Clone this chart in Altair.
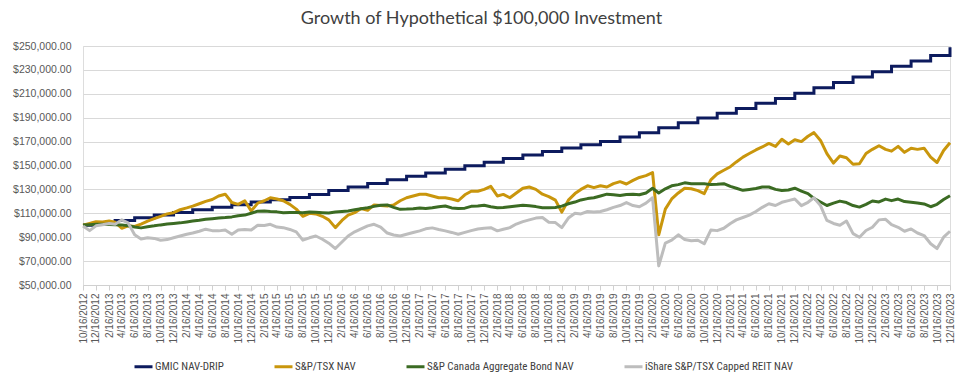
import altair as alt
import pandas as pd

TITLE = "Growth of Hypothetical $100,000 Investment"
SERIES = ["GMIC NAV-DRIP", "S&P/TSX NAV", "S&P Canada Aggregate Bond NAV",
          "iShare S&P/TSX Capped REIT NAV"]
COLORS = ["#0d1b5e", "#c9960c", "#3b6b23", "#bdbdbd"]

# month offsets from 10/16/2012
gmic_months = [0] + list(range(2, 135, 3))
# GMIC NAV-DRIP value ($ thousands) in effect from each month offset (quarterly steps)
gmic_k = [100.0, 101.9, 104.0, 106.2, 108.5, 110.7, 112.9, 115.0, 117.2, 119.4,
          121.3, 123.2, 125.8, 129.0, 132.0, 135.0, 138.0, 141.0, 143.8, 146.8,
          149.8, 152.8, 155.8, 158.8, 161.8, 164.6, 167.4, 170.0, 173.8, 177.4,
          181.5, 185.7, 189.8, 193.7, 197.8, 202.0, 206.0, 210.5, 215.0, 219.5,
          224.0, 228.5, 233.0, 237.5, 242.0, 249.0]

# monthly values ($ thousands), month offsets 0..134
tsx_k = [100.0, 101.5, 103.0, 102.8, 103.5, 102.5, 97.5, 99.5, 99.0, 101.0, 103.5, 105.5,
         107.5, 109.5, 110.5, 113.0, 114.5, 116.0, 118.0, 120.0, 121.5, 124.5, 126.0, 119.0,
         117.5, 120.5, 112.0, 118.5, 120.5, 123.0, 122.0, 120.5, 117.5, 113.5, 107.5, 110.0,
         109.5, 107.5, 104.5, 98.0, 104.0, 108.5, 110.5, 114.0, 112.5, 117.0, 116.5, 116.0,
         117.0, 120.5, 123.0, 124.5, 126.0, 126.0, 124.5, 123.0, 123.0, 122.0, 120.5, 125.5,
         128.5, 128.5, 130.0, 132.5, 124.5, 125.8, 123.0, 127.0, 131.0, 132.0, 130.0, 126.0,
         124.0, 121.0, 111.0, 121.0, 126.5, 130.0, 133.0, 131.5, 133.0, 132.0, 134.8, 136.5,
         134.5, 137.5, 140.0, 141.5, 144.0, 92.0, 113.5, 122.0, 127.0, 131.0, 130.5, 129.0,
         126.5, 138.0, 143.0, 146.0, 149.0, 153.0, 157.0, 160.0, 163.0, 165.5, 168.5, 166.0,
         172.0, 168.0, 171.5, 170.0, 174.5, 177.5, 171.0, 160.0, 152.0, 158.0, 156.5, 151.0,
         151.5, 160.0, 163.5, 166.5, 163.5, 162.0, 166.0, 161.0, 164.5, 163.5, 164.5, 157.0,
         152.5, 162.5, 169.0]

bond_k = [100.3, 100.5, 100.8, 100.8, 100.6, 100.5, 100.3, 99.5, 98.5, 97.8, 98.8, 99.5,
          100.3, 101.0, 101.5, 102.0, 102.8, 103.5, 104.2, 105.0, 105.5, 106.0, 106.4, 107.0,
          108.0, 108.5, 110.0, 111.8, 112.0, 111.5, 111.2, 110.5, 110.6, 110.6, 110.5, 111.0,
          110.8, 110.5, 110.2, 111.0, 111.5, 112.0, 113.0, 113.8, 114.7, 115.8, 116.8, 117.0,
          115.0, 113.3, 113.5, 113.9, 114.5, 114.0, 114.7, 115.5, 116.1, 114.5, 114.0, 114.3,
          115.8, 116.1, 116.7, 115.5, 114.7, 114.8, 115.5, 116.1, 116.7, 116.3, 115.6, 114.7,
          114.6, 114.8, 116.0, 118.0, 119.4, 121.2, 122.3, 123.0, 124.5, 126.0, 125.5, 124.9,
          125.8, 126.0, 125.5, 127.0, 131.0, 127.0, 130.5, 133.0, 134.0, 135.5, 134.8, 134.8,
          134.8, 134.0, 134.3, 134.8, 132.5, 131.0, 129.2, 130.0, 130.8, 132.0, 132.0, 130.0,
          129.0, 129.5, 131.0, 128.5, 126.5, 122.5, 119.5, 116.5, 118.5, 120.2, 119.0, 116.5,
          115.2, 117.5, 120.3, 119.5, 121.9, 120.6, 121.9, 119.8, 119.2, 118.6, 117.8, 115.5,
          117.5, 121.5, 124.7]

reit_k = [99.4, 95.5, 99.5, 100.5, 101.5, 100.8, 104.5, 102.0, 92.0, 88.5, 89.5, 89.0,
          87.5, 88.0, 89.5, 91.0, 92.5, 93.5, 95.0, 96.7, 95.5, 95.3, 96.0, 92.5,
          96.0, 96.5, 96.0, 100.0, 99.8, 100.8, 98.5, 98.0, 96.5, 94.5, 87.5, 89.5,
          91.0, 88.3, 85.0, 80.5, 86.0, 91.0, 94.5, 97.0, 99.5, 100.8, 98.5, 93.5,
          91.8, 91.0, 92.5, 93.9, 95.3, 97.0, 97.8, 96.5, 95.3, 94.0, 92.5, 94.0,
          95.5, 96.8, 97.5, 98.0, 95.3, 96.7, 98.0, 101.0, 103.0, 104.5, 106.0, 106.5,
          102.5, 102.2, 98.0, 106.0, 110.0, 109.5, 111.5, 111.0, 111.5, 113.0, 115.0, 116.5,
          119.0, 116.5, 115.5, 118.5, 123.0, 66.0, 85.0, 87.5, 92.0, 88.0, 87.0, 87.5,
          84.5, 96.0, 95.5, 97.5, 101.5, 104.5, 106.5, 108.5, 111.5, 115.0, 118.0, 116.5,
          119.2, 120.6, 122.0, 116.4, 119.2, 123.0, 116.4, 104.0, 101.5, 100.0, 103.5, 93.0,
          90.0, 95.6, 98.3, 104.5, 105.0, 100.5, 98.3, 95.0, 96.9, 93.5, 91.4, 84.5,
          80.5, 90.0, 95.0]

y_ticks = [50000, 70000, 90000, 110000, 130000, 150000, 170000, 190000, 210000, 230000, 250000]
x_tick_months = list(range(0, 135, 2))


def ym(m):
    return 2012 + (9 + m) // 12, (9 + m) % 12 + 1


def month_date(m):
    y, mo = ym(m)
    return f"{y}-{mo:02d}-16T00:00:00"


rows = []
for m, v in zip(gmic_months, gmic_k):
    rows.append({"series": SERIES[0], "date": month_date(m), "value": v * 1000})
gmic_df = pd.DataFrame(rows)

rows = []
for name, vals in zip(SERIES[1:], [tsx_k, bond_k, reit_k]):
    for m, v in enumerate(vals):
        rows.append({"series": name, "date": month_date(m), "value": v * 1000})
other_df = pd.DataFrame(rows)

tick_dates = [alt.DateTime(year=ym(m)[0], month=ym(m)[1], date=16) for m in x_tick_months]

AXIS_FONT = "Liberation Sans"
LEGEND_FONT = "Liberation Sans Narrow, Roboto Condensed, Liberation Sans"

x_enc = alt.X(
    "date:T", title=None,
    scale=alt.Scale(domain=[alt.DateTime(year=2012, month=10, date=16),
                            alt.DateTime(year=2023, month=12, date=16)], nice=False),
    axis=alt.Axis(values=tick_dates, format="%-m/%-d/%Y", labelAngle=270,
                  labelFont=AXIS_FONT, labelFontSize=10, labelColor="#595959",
                  labelPadding=3, labelOverlap=False, labelFlush=False,
                  domainColor="#d0d0d0", domainWidth=1, tickColor="#d0d0d0",
                  tickSize=5, grid=False),
)
y_enc = alt.Y(
    "value:Q", title=None,
    scale=alt.Scale(domain=[50000, 250000], nice=False, zero=False),
    axis=alt.Axis(values=y_ticks, format="$,.2f", domain=False, ticks=False,
                  labelPadding=12, labelFont=AXIS_FONT, labelFontSize=10.5,
                  labelColor="#595959", gridColor="#d9d9d9", gridWidth=1.2),
)
color_enc = alt.Color(
    "series:N",
    scale=alt.Scale(domain=SERIES, range=COLORS),
    legend=alt.Legend(title=None, orient="none", legendX=50, legendY=310,
                      direction="horizontal", symbolType="stroke", symbolSize=324,
                      symbolStrokeWidth=3, labelFont=LEGEND_FONT, labelFontSize=11,
                      labelColor="#404040", columnPadding=44, labelOffset=1,
                      labelLimit=400),
)

gmic_layer = alt.Chart(gmic_df).mark_line(
    interpolate="step-after", strokeWidth=3, strokeJoin="miter"
).encode(x=x_enc, y=y_enc, color=color_enc)

layers = [gmic_layer]
for name in SERIES[1:]:
    layers.append(
        alt.Chart(other_df).transform_filter(alt.datum.series == name)
        .mark_line(strokeWidth=3, strokeJoin="round")
        .encode(x=x_enc, y=y_enc, color=color_enc)
    )

chart = alt.layer(*layers).properties(
    width=867, height=239,
    autosize="none",
    padding={"left": 75, "top": 38, "right": 9, "bottom": 92},
    title=alt.TitleParams(TITLE, font="Lato", fontSize=18, fontWeight="normal",
                          color="#404040", anchor="middle", dx=-35, dy=18, offset=17,
                          baseline="alphabetic"),
).configure_view(stroke=None).configure(background="white")

chart.save("out.html", embed_options={"renderer": "svg", "actions": False})
